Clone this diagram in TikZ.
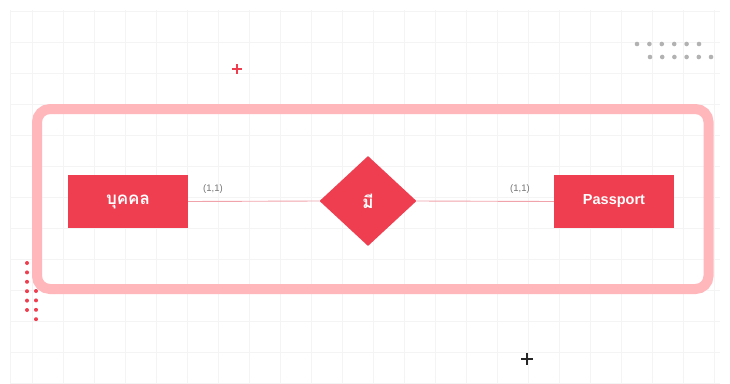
\documentclass[tikz,border=0pt]{standalone}
\usepackage{fontspec}
\setmainfont{Liberation Sans}
\newfontfamily\thaifont[Script=Thai]{Loma}
\usetikzlibrary{shapes.geometric}
\definecolor{erred}{HTML}{EF3E4F}
\definecolor{framepink}{HTML}{FFB7BC}
\definecolor{gridgray}{HTML}{F4F4F5}
\definecolor{linkpink}{HTML}{F0A3AB}
\begin{document}
\begin{tikzpicture}[x=1pt,y=-1pt,
    entity/.style={fill=erred,minimum width=120pt,minimum height=53pt,inner sep=0pt,
      text=white,font=\fontsize{14.5}{17}\selectfont\bfseries},
    relation/.style={diamond,fill=erred,minimum width=97pt,minimum height=90pt,inner sep=0pt,
      text=white},
    thaitext/.style={font=\thaifont\fontsize{17}{19}\selectfont\bfseries},
    card/.style={text=black!55,font=\fontsize{9.5}{11}\selectfont,inner sep=1pt},
    link/.style={linkpink,line width=0.9pt}]
  \useasboundingbox (0,0) rectangle (730,383);
  \fill[white] (0,0) rectangle (730,383);

  % background grid
  \foreach \gx in {0,...,22}
    \draw[gridgray,line width=0.8pt] ({32+31*\gx},10) -- ({32+31*\gx},383);
  \foreach \gy in {0,...,12}
    \draw[gridgray,line width=0.8pt] (10,{11+31*\gy}) -- (720,{11+31*\gy});
  \draw[gridgray,line width=0.8pt] (10,10) -- (10,383);

  % decorations
  \draw[erred,line width=1.4pt] (232,69) -- (242,69) (237,64) -- (237,74);
  \draw[black!85,line width=1.4pt] (521,359) -- (533,359) (527,353) -- (527,365);
  \foreach \k in {0,...,5}{
    \fill[black!30] ({637+12.4*\k},44) circle (2.3);
    \fill[black!30] ({650+12.2*\k},57) circle (2.3);
  }
  \foreach \k in {0,...,5}
    \fill[erred] (27,{263+9.4*\k}) circle (2);
  \foreach \k in {0,...,3}
    \fill[erred] (36,{291+9.4*\k}) circle (2);

  % frame
  \draw[framepink,line width=10pt,rounded corners=13pt] (37,109) rectangle (708.5,289);

  % diagram
  \node[entity] (person) at (128,201.5) {};
  \node[thaitext,text=white] (personlabel) at (person) {บุคคล};
  \node[entity] (passport) at (614,201.5) {Passport};
  \node[relation] (has) at (368,201) {};
  \node[thaitext,text=white] (haslabel) at (has) {มี};
  \draw[link] (person.east) -- (has.west);
  \draw[link] (has.east) -- (passport.west);
  \node[card] (cardleft) at (213,189) {(1,1)};
  \node[card] (cardright) at (520,189) {(1,1)};
\end{tikzpicture}
\end{document}
